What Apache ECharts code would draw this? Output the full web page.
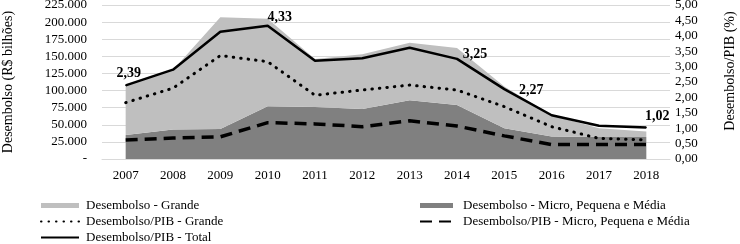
<!DOCTYPE html>
<html>
<head>
<meta charset="utf-8">
<script src="https://cdn.jsdelivr.net/npm/echarts@6/dist/echarts.min.js"></script>
<style>
  html, body { margin: 0; padding: 0; background: #fff; }
  #chart { width: 740px; height: 244px; }
</style>
</head>
<body>
<div id="chart"></div>
<script>
var years = ['2007','2008','2009','2010','2011','2012','2013','2014','2015','2016','2017','2018'];

// Desembolso (R$ milhoes), empilhado
var desembMPME   = [35000, 43000, 44000, 77000, 76000, 73000, 86000, 79000, 45000, 33000, 32000, 32000];
var desembGrande = [72000, 87000, 163000, 128000, 70000, 80000, 84000, 83000, 61000, 31000, 13000, 8000];

// Desembolso/PIB (%)
var pibGrande = [1.83, 2.30, 3.36, 3.16, 2.07, 2.24, 2.40, 2.24, 1.70, 1.05, 0.67, 0.62];
var pibMPME   = [0.62, 0.68, 0.72, 1.18, 1.14, 1.05, 1.24, 1.07, 0.75, 0.47, 0.47, 0.47];
var pibTotal  = [2.39, 2.90, 4.13, 4.33, 3.19, 3.27, 3.61, 3.25, 2.27, 1.42, 1.08, 1.02];

var labelledYears = ['2007', '2010', '2014', '2015', '2018'];

var dom = document.getElementById('chart');
var myChart = echarts.init(dom);
var font = 'Liberation Serif';

function fmtThousands(v) {
    if (v === 0) return '-';
    return String(v).replace(/\B(?=(\d{3})+(?!\d))/g, '.');
}
function fmtPct(v) {
    return v.toFixed(2).replace('.', ',');
}

var labelOffsets = {
    '2007': [3, 1],
    '2010': [12, 4],
    '2014': [18, 8],
    '2015': [27, 14],
    '2018': [11, 1]
};

var totalData = pibTotal.map(function (v, i) {
    var y = years[i];
    if (labelledYears.indexOf(y) < 0) return v;
    return {
        value: v,
        label: {
            show: true,
            position: 'top',
            offset: labelOffsets[y],
            formatter: function (p) { return fmtPct(p.value); },
            fontFamily: font,
            fontWeight: 'bold',
            fontSize: 14,
            color: '#000'
        }
    };
});

var noSymbol = { opacity: 0 };

option = {
    animation: false,
    textStyle: { fontFamily: font, color: '#000' },
    grid: { left: 102, right: 70, top: 5, bottom: 85, outerBoundsMode: 'none' },
    legend: [
        {
            orient: 'vertical',
            left: 40,
            top: 199,
            padding: 0,
            itemWidth: 38,
            itemHeight: 12,
            itemGap: 3,
            textStyle: { fontFamily: font, fontSize: 13, color: '#000', padding: [0, 0, 0, 2] },
            data: [
                { name: 'Desembolso - Grande', icon: 'path://M0,0H38V5H0Z' },
                { name: 'Desembolso/PIB - Grande', itemStyle: noSymbol },
                { name: 'Desembolso/PIB - Total', itemStyle: noSymbol }
            ]
        },
        {
            orient: 'vertical',
            left: 419,
            top: 199,
            padding: 0,
            itemWidth: 33,
            itemHeight: 12,
            itemGap: 3,
            textStyle: { fontFamily: font, fontSize: 13, color: '#000', padding: [0, 0, 0, 5] },
            data: [
                { name: 'Desembolso - Micro, Pequena e Média', icon: 'path://M0,0H33V5H0Z' },
                { name: 'Desembolso/PIB - Micro, Pequena e Média', itemStyle: noSymbol }
            ]
        }
    ],
    xAxis: {
        type: 'category',
        data: years,
        boundaryGap: true,
        axisLine: { show: true, lineStyle: { color: '#d9d9d9' } },
        axisTick: { show: false },
        axisLabel: { fontFamily: font, fontSize: 13, color: '#000', margin: 10 }
    },
    yAxis: [
        {
            type: 'value',
            min: 0,
            max: 225000,
            interval: 25000,
            name: 'Desembolso (R$ bilhões)',
            nameLocation: 'middle',
            nameGap: 87,
            nameTextStyle: { fontFamily: font, fontSize: 14, color: '#000' },
            axisLabel: { fontFamily: font, fontSize: 13, color: '#000', margin: 15, formatter: fmtThousands },
            splitLine: { lineStyle: { color: '#d9d9d9', width: 1 } },
            axisLine: { show: false },
            axisTick: { show: false }
        },
        {
            type: 'value',
            min: 0,
            max: 5,
            interval: 0.5,
            name: 'Desembolso/PIB (%)',
            nameLocation: 'middle',
            nameGap: 53,
            nameRotate: 90,
            nameTextStyle: { fontFamily: font, fontSize: 14, color: '#000', padding: [0, 0, 0, 22] },
            axisLabel: { fontFamily: font, fontSize: 13, color: '#000', margin: 5, formatter: fmtPct },
            splitLine: { show: false },
            axisLine: { show: false },
            axisTick: { show: false }
        }
    ],
    series: [
        {
            name: 'Desembolso - Micro, Pequena e Média',
            type: 'line',
            stack: 'desemb',
            yAxisIndex: 0,
            symbol: 'none',
            color: '#808080',
            lineStyle: { width: 0 },
            areaStyle: { color: '#808080', opacity: 1 },
            data: desembMPME,
            z: 1
        },
        {
            name: 'Desembolso - Grande',
            type: 'line',
            stack: 'desemb',
            yAxisIndex: 0,
            symbol: 'none',
            color: '#bfbfbf',
            lineStyle: { width: 0 },
            areaStyle: { color: '#bfbfbf', opacity: 1 },
            data: desembGrande,
            z: 1
        },
        {
            name: 'Desembolso/PIB - Grande',
            type: 'line',
            yAxisIndex: 1,
            symbol: 'none',
            color: '#000',
            lineStyle: { color: '#000', width: 3, type: [0.5, 7], cap: 'round' },
            data: pibGrande,
            z: 3
        },
        {
            name: 'Desembolso/PIB - Micro, Pequena e Média',
            type: 'line',
            yAxisIndex: 1,
            symbol: 'none',
            color: '#000',
            lineStyle: { color: '#000', width: 3.5, type: [12, 7] },
            data: pibMPME,
            z: 3
        },
        {
            name: 'Desembolso/PIB - Total',
            type: 'line',
            yAxisIndex: 1,
            symbol: 'circle',
            symbolSize: 1,
            showSymbol: true,
            showAllSymbol: true,
            color: '#000',
            itemStyle: { color: '#000' },
            lineStyle: { color: '#000', width: 2.5 },
            data: totalData,
            z: 4
        }
    ]
};

myChart.setOption(option, true);
</script>
</body>
</html>
